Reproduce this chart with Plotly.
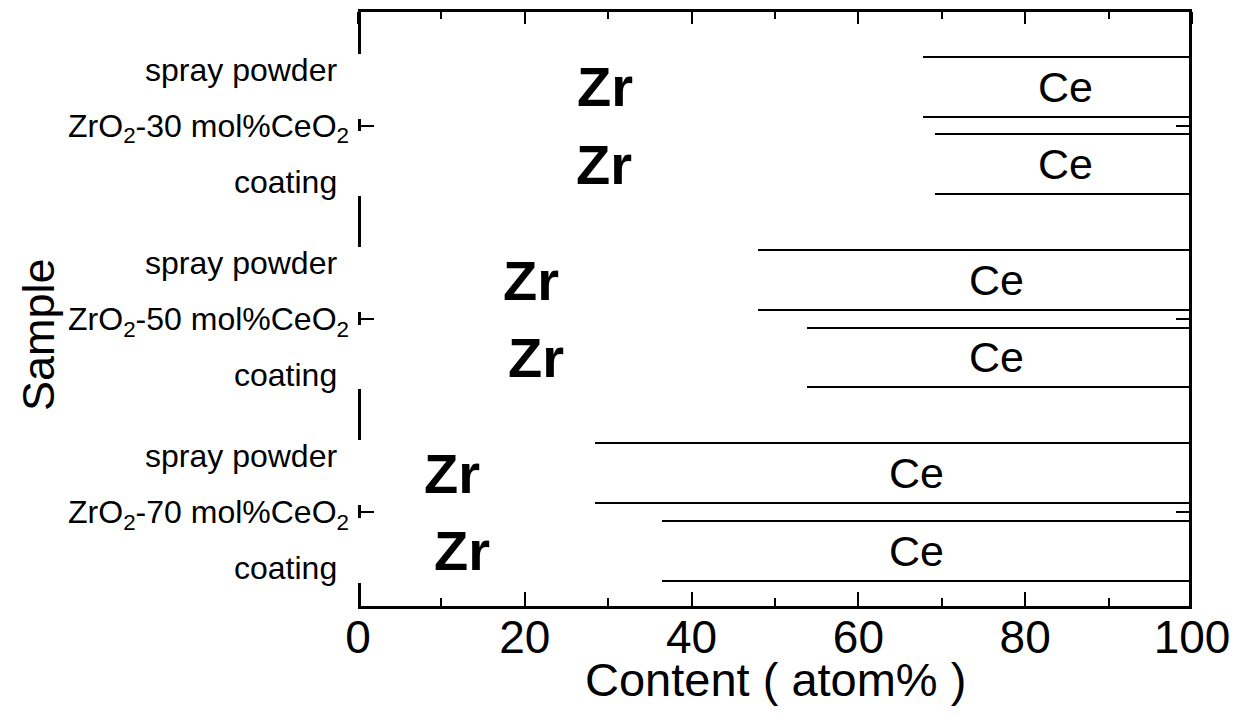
import plotly.graph_objects as go

# ---- data ----
samples = ["ZrO<sub>2</sub>-30 mol%CeO<sub>2</sub>",
           "ZrO<sub>2</sub>-50 mol%CeO<sub>2</sub>",
           "ZrO<sub>2</sub>-70 mol%CeO<sub>2</sub>"]
forms = ["spray powder", "coating"]
zr_spray = [67.5, 47.7, 28.2]   # Zr atom%
zr_coat = [69.0, 53.6, 36.2]
ce_spray = [100 - v for v in zr_spray]  # Ce atom%
ce_coat = [100 - v for v in zr_coat]
x_ticks = [0, 20, 40, 60, 80, 100]
x_minor_ticks = [10, 30, 50, 70, 90]

# ---- layout constants ----
FONT = "Liberation Sans, Arial, Helvetica, sans-serif"
group_pos = [0, 1, 2]
offset = 0.2
bar_w = 0.31
zr_label_x = {"spray powder": [29.6, 20.7, 11.3], "coating": [29.5, 21.3, 12.5]}
ce_label_x = {"spray powder": [84.8, 76.5, 67.0], "coating": [84.8, 76.5, 67.0]}

y_spray = [g - offset for g in group_pos]
y_coat = [g + offset for g in group_pos]

ys = y_spray + y_coat
zr = zr_spray + zr_coat
ce = ce_spray + ce_coat

fig = go.Figure()
# Ce part (outlined, drawn first)
fig.add_trace(go.Bar(
    y=ys, x=ce, base=zr, orientation="h", width=bar_w,
    marker=dict(color="rgba(0,0,0,0)", line=dict(color="black", width=2)),
    name="Ce", showlegend=False))
# Zr part (white, drawn on top: hides left edge of Ce box and the left frame line)
fig.add_trace(go.Bar(
    y=ys, x=zr, base=[0] * len(zr), orientation="h", width=bar_w,
    marker=dict(color="white", line=dict(color="white", width=5)),
    name="Zr", showlegend=False))
# empty helper trace so the top x axis is drawn
fig.add_trace(go.Scatter(x=[None], y=[None], xaxis="x2", yaxis="y",
                         showlegend=False, hoverinfo="skip"))

annotations = []
for i, g in enumerate(group_pos):
    for form, yv in (("spray powder", y_spray[i]), ("coating", y_coat[i])):
        annotations.append(dict(x=zr_label_x[form][i], y=yv, xref="x", yref="y",
                                text="<b>Zr</b>", showarrow=False,
                                font=dict(family=FONT, size=56, color="black")))
        annotations.append(dict(x=ce_label_x[form][i], y=yv, xref="x", yref="y",
                                text="Ce", showarrow=False,
                                font=dict(family=FONT, size=43, color="black")))
    annotations.append(dict(x=0, y=g - 0.29, xref="paper", yref="y", xanchor="right",
                            xshift=-19, text=forms[0], showarrow=False,
                            font=dict(family=FONT, size=32, color="black")))
    annotations.append(dict(x=0, y=g + 0.29, xref="paper", yref="y", xanchor="right",
                            xshift=-19, text=forms[1], showarrow=False,
                            font=dict(family=FONT, size=32, color="black")))
annotations.append(dict(x=-0.384, y=0.456, xref="paper", yref="paper", textangle=-90,
                        xanchor="center", yanchor="middle",
                        text="Sample", showarrow=False,
                        font=dict(family=FONT, size=45, color="black")))
annotations.append(dict(x=0.5, y=-0.124, xref="paper", yref="paper",
                        xanchor="center", yanchor="middle",
                        text="Content ( atom% )", showarrow=False,
                        font=dict(family=FONT, size=47, color="black")))

# frame lines left/right (left one sits below the bars, so the white Zr bars hide it)
shapes = [
    dict(type="line", xref="paper", yref="paper", x0=0.0018, x1=0.0018, y0=0, y1=1,
         line=dict(color="black", width=3), layer="below"),
    dict(type="line", xref="paper", yref="paper", x0=0.9982, x1=0.9982, y0=0, y1=1,
         line=dict(color="black", width=3), layer="above"),
]

fig.update_layout(
    width=1230, height=717,
    margin=dict(l=350, r=46, t=2, b=119),
    paper_bgcolor="white", plot_bgcolor="rgba(0,0,0,0)",
    barmode="overlay", bargap=0,
    annotations=annotations, shapes=shapes,
    font=dict(family=FONT, color="black"),
    xaxis=dict(type="linear", range=[0, 100], tickvals=x_ticks, ticks="inside", ticklen=14,
               tickwidth=2, tickcolor="black",
               minor=dict(tickvals=x_minor_ticks, ticks="inside", ticklen=8, tickwidth=2,
                          tickcolor="black"),
               showline=True, linewidth=3, linecolor="black", mirror=False,
               showgrid=False, zeroline=False, layer="below traces",
               tickfont=dict(family=FONT, size=46, color="black"), ticklabelstandoff=-11),
    # top frame: a bottom-side axis placed at the top, ticks pointing down into the plot
    xaxis2=dict(type="linear", range=[0, 100], overlaying="x", side="bottom",
                anchor="free", position=1,
                tickvals=x_ticks, ticks="outside", ticklen=12, tickwidth=2, tickcolor="black",
                minor=dict(tickvals=x_minor_ticks, ticks="outside", ticklen=7, tickwidth=2,
                           tickcolor="black"),
                showline=True, linewidth=3, linecolor="black",
                showgrid=False, zeroline=False, showticklabels=False, layer="above traces"),
)
fig.update_yaxes(
    range=[2.486, -0.598], tickvals=group_pos, ticktext=samples, ticks="inside",
    ticklen=16, tickwidth=2, tickcolor="black",
    showline=False, mirror="ticks",
    showgrid=False, zeroline=False, layer="below traces",
    tickfont=dict(family=FONT, size=32, color="black"), ticklabelstandoff=8,
)

fig.write_html("out.html")
